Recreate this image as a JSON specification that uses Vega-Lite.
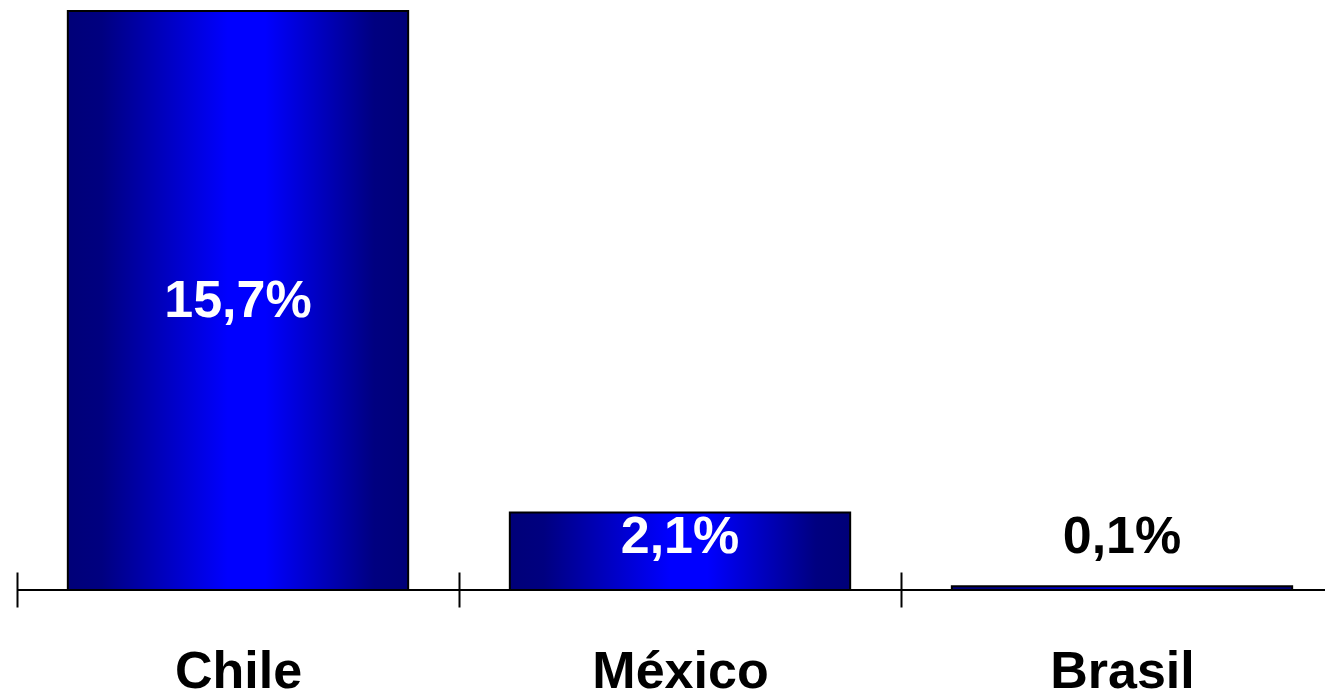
{
  "$schema": "https://vega.github.io/schema/vega-lite/v6.json",
  "autosize": {"type": "none"},
  "width": 1308,
  "height": 579,
  "padding": {"left": 17, "top": 11, "right": 0, "bottom": 100},
  "background": "white",
  "config": {
    "view": {"stroke": null},
    "locale": {"number": {"decimal": ",", "thousands": ".", "grouping": [3], "currency": ["", " €"]}},
    "font": "Liberation Sans"
  },
  "data": {
    "values": [
      {"country": "Chile", "value": 0.157},
      {"country": "México", "value": 0.021},
      {"country": "Brasil", "value": 0.001}
    ]
  },
  "layer": [
    {
      "mark": {
        "type": "bar",
        "width": {"band": 0.77},
        "stroke": "#000000",
        "strokeWidth": 2,
        "color": {
          "gradient": "linear",
          "x1": 0, "x2": 1, "y1": 0, "y2": 0,
          "stops": [
            {"offset": 0, "color": "#000078"},
            {"offset": 0.1, "color": "#000080"},
            {"offset": 0.47, "color": "#0000FF"},
            {"offset": 0.58, "color": "#0000FF"},
            {"offset": 0.9, "color": "#000080"},
            {"offset": 1, "color": "#000078"}
          ]
        }
      },
      "encoding": {
        "x": {
          "field": "country",
          "type": "nominal",
          "sort": null,
          "title": null,
          "scale": {"range": [0, 1326], "paddingInner": 0, "paddingOuter": 0},
          "axis": {
            "domain": false,
            "offset": -18,
            "tickSize": 35,
            "tickWidth": 2,
            "tickColor": "#000000",
            "tickBand": "extent",
            "labelAngle": 0,
            "labelBaseline": "alphabetic",
            "labelPadding": 80,
            "labelFont": "Liberation Sans",
            "labelFontSize": 52,
            "labelFontWeight": "bold",
            "labelColor": "#000000"
          }
        },
        "y": {
          "field": "value",
          "type": "quantitative",
          "scale": {"domain": [0, 0.157], "nice": false, "zero": true},
          "axis": null
        }
      }
    },
    {
      "mark": {"type": "rule", "color": "#000000", "strokeWidth": 2},
      "encoding": {"y": {"datum": 0, "type": "quantitative"}}
    },
    {
      "transform": [{"calculate": "max(datum.value / 2, 0.0145)", "as": "label_y"}],
      "mark": {
        "type": "text",
        "font": "Liberation Sans",
        "fontSize": 52,
        "fontWeight": "bold",
        "baseline": "middle",
        "align": "center"
      },
      "encoding": {
        "x": {"field": "country", "type": "nominal", "sort": null},
        "y": {"field": "label_y", "type": "quantitative"},
        "text": {"field": "value", "type": "quantitative", "format": ".1%"},
        "color": {
          "condition": {"test": "datum.value > 0.01", "value": "#FFFFFF"},
          "value": "#000000"
        }
      }
    }
  ]
}
